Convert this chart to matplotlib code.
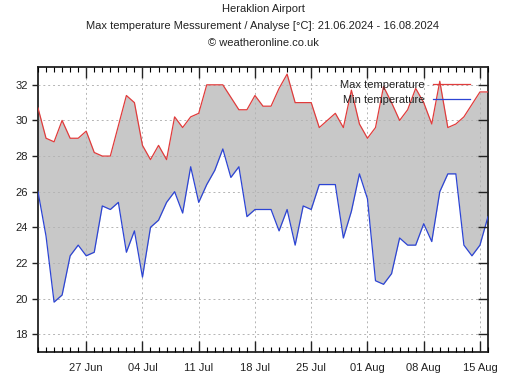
import matplotlib
matplotlib.use("Agg")
import matplotlib.pyplot as plt
import numpy as np
import datetime as dt

plt.rcParams['font.family'] = ['Liberation Sans', 'DejaVu Sans']

start = dt.date(2024, 6, 21)
tmax = [30.7, 29.0, 28.8, 30.0, 29.0, 29.0, 29.4, 28.2, 28.0, 28.0,
        29.7, 31.4, 31.0, 28.6, 27.8, 28.6, 27.8, 30.2, 29.6, 30.2,
        30.4, 32.0, 32.0, 32.0, 31.3, 30.6, 30.6, 31.4, 30.8, 30.8,
        31.8, 32.6, 31.0, 31.0, 31.0, 29.6, 30.0, 30.4, 29.6, 31.7,
        29.8, 29.0, 29.6, 31.9, 31.0, 30.0, 30.6, 31.8, 31.0, 29.8,
        32.2, 29.6, 29.8, 30.2, 30.9, 31.6, 31.6]
tmin = [26.0, 23.5, 19.8, 20.2, 22.4, 23.0, 22.4, 22.6, 25.2, 25.0,
        25.4, 22.6, 23.8, 21.2, 24.0, 24.4, 25.4, 26.0, 24.8, 27.4,
        25.4, 26.4, 27.2, 28.4, 26.8, 27.4, 24.6, 25.0, 25.0, 25.0,
        23.8, 25.0, 23.0, 25.2, 25.0, 26.4, 26.4, 26.4, 23.4, 24.9,
        27.0, 25.6, 21.0, 20.8, 21.4, 23.4, 23.0, 23.0, 24.2, 23.2,
        26.0, 27.0, 27.0, 23.0, 22.4, 23.0, 24.6]
yticks = [18, 20, 22, 24, 26, 28, 30, 32]
xtick_days = [6, 13, 20, 27, 34, 41, 48, 55]

days = np.arange(len(tmax))
xlabels = [(start + dt.timedelta(days=int(d))).strftime('%d %b') for d in xtick_days]

fig = plt.figure(figsize=(5.10, 3.87), dpi=100)
ax = fig.add_axes([38/510, 1-352/387, (488-38)/510, (352-67)/387])

ax.fill_between(days, tmin, tmax, color='#c8c8c8', lw=0, zorder=1)
ax.plot(days, tmax, color='#e03c3c', lw=0.9, zorder=3, label='Max temperature')
ax.plot(days, tmin, color='#2c44d4', lw=0.9, zorder=3, label='Min temperature')

ax.set_xlim(0, 56)
ax.set_ylim(17, 33)
ax.set_yticks(yticks)
ax.set_xticks(xtick_days)
ax.set_xticklabels(xlabels)
ax.set_xticks(days, minor=True)
ax.grid(True, which='major', color='#b4b4b4', ls=(0, (2, 3)), lw=0.7, zorder=2)
ax.set_axisbelow(False)

ax.tick_params(axis='x', which='major', direction='in', length=8, width=1, top=True,
               labelsize=8, pad=8, colors='#222222')
ax.tick_params(axis='x', which='minor', direction='in', length=3.5, width=0.8, top=True)
ax.tick_params(axis='y', which='minor', left=False, right=False)
ax.yaxis.set_tick_params(which='major', direction='out', length=4, width=1,
                         left=True, right=False, labelsize=8, colors='#222222')
for lbl in ax.get_xticklabels() + ax.get_yticklabels():
    lbl.set_color('#222222')
for sp in ax.spines.values():
    sp.set_linewidth(1.3)
    sp.set_color('#222222')

# right-side inward ticks
ax2 = ax.twinx()
ax2.set_ylim(17, 33)
ax2.set_yticks(yticks)
ax2.tick_params(axis='y', direction='in', length=7, width=1, labelright=False, colors='#222222')
for sp in ax2.spines.values():
    sp.set_visible(False)

leg = ax.legend(loc='upper right', bbox_to_anchor=(0.985, 0.995), frameon=False, fontsize=8,
                handlelength=3.3, markerfirst=False, labelspacing=0.45, borderaxespad=0.6,
                handletextpad=0.8)
for t in leg.get_texts():
    t.set_color('#222222')

fig.text(263/510, 1-9/387, 'Heraklion Airport', ha='center', va='center', fontsize=8, color='#222222')
fig.text(263/510, 1-26/387, 'Max temperature Messurement / Analyse [°C]: 21.06.2024 - 16.08.2024',
         ha='center', va='center', fontsize=8, color='#222222')
fig.text(263/510, 1-43/387, '© weatheronline.co.uk', ha='center', va='center', fontsize=8, color='#222222')

fig.savefig('out.png', dpi=100)
